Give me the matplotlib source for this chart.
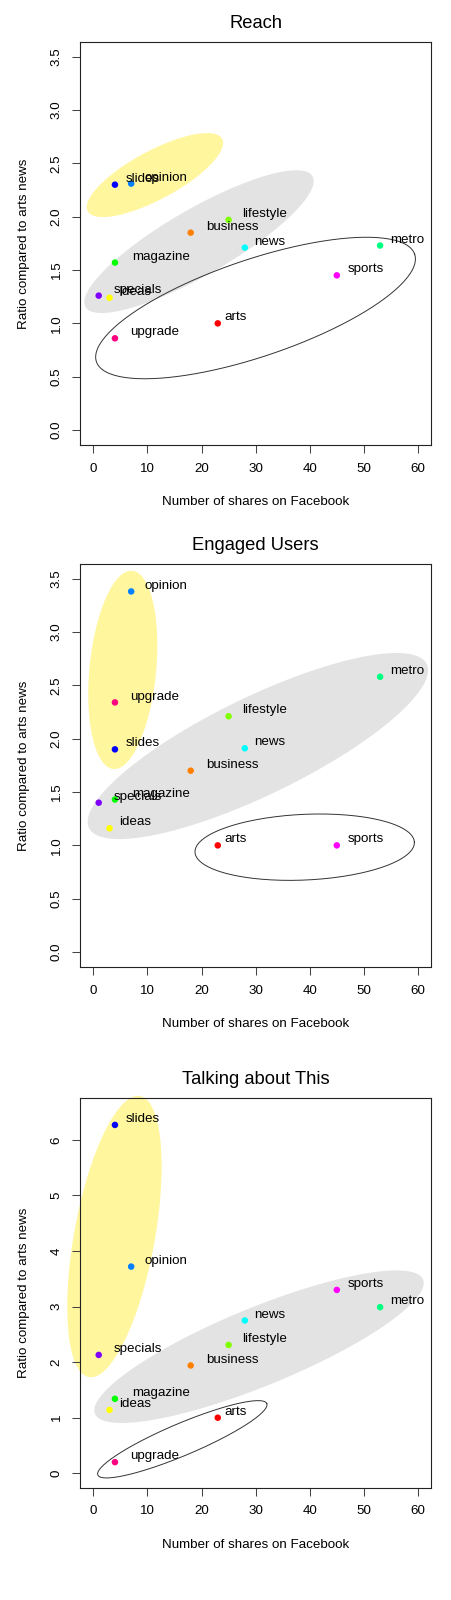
import numpy as np
import matplotlib
matplotlib.use("Agg")
from matplotlib import pyplot as plt

plt.rcParams['font.family'] = ['Liberation Sans', 'DejaVu Sans']

sections = ['arts', 'business', 'ideas', 'lifestyle', 'magazine', 'metro',
            'news', 'opinion', 'slides', 'specials', 'sports', 'upgrade']
shares = [23, 18, 3, 25, 4, 53, 28, 7, 4, 1, 45, 4]
reach = [1.00, 1.85, 1.24, 1.97, 1.57, 1.73, 1.71, 2.31, 2.30, 1.26, 1.45, 0.86]
engaged = [1.00, 1.70, 1.16, 2.21, 1.43, 2.58, 1.91, 3.38, 1.90, 1.40, 1.00, 2.34]
talking = [1.00, 1.94, 1.14, 2.31, 1.34, 2.99, 2.75, 3.72, 6.27, 2.13, 3.30, 0.20]

# rainbow(12), one colour per section (alphabetical)
colors = ['#FF0000', '#FF8000', '#FFFF00', '#80FF00', '#00FF00', '#00FF80',
          '#00FFFF', '#0080FF', '#0000FF', '#8000FF', '#FF00FF', '#FF0080']

titles = ['Reach', 'Engaged Users', 'Talking about This']
ylims = [3.5, 3.5, 6.5]
yticks = [[0, 0.5, 1, 1.5, 2, 2.5, 3, 3.5],
          [0, 0.5, 1, 1.5, 2, 2.5, 3, 3.5],
          [0, 1, 2, 3, 4, 5, 6]]
ylabels = [['0.0', '0.5', '1.0', '1.5', '2.0', '2.5', '3.0', '3.5'],
           ['0.0', '0.5', '1.0', '1.5', '2.0', '2.5', '3.0', '3.5'],
           ['0', '1', '2', '3', '4', '5', '6']]

# hand drawn cluster ellipses: centre, semi axis u, semi axis v (data units)
yellow = [((11.39, 2.39), (12.42, 0.339), (-2.12, 0.200)),
          ((5.45, 2.645), (1.763, 0.929), (-6.13, 0.030)),
          ((3.91, 4.26), (4.726, 2.530), (-7.33, 0.130))]
grey = [((19.53, 1.766), (20.97, 0.613), (-3.06, 0.268)),
        ((30.41, 1.931), (31.20, 0.768), (-3.96, 0.413)),
        ((30.62, 2.278), (30.31, 1.209), (-2.74, 0.651))]
outline = [((29.98, 1.144), (29.40, 0.504), (-2.88, 0.431)),
           ((39.06, 0.983), (20.27, 0.047), (-0.275, 0.3075)),
           ((16.45, 0.6115), (15.61, 0.643), (-1.155, 0.2656))]

W, H = 451, 1600
fig = plt.figure(figsize=(W / 100, H / 100), dpi=100)
renderer = fig.canvas.get_renderer()

# axes box in pixels: left, top, right, bottom
boxes = [(80.3, 41.7, 431, 445), (80.3, 563.7, 431, 967), (80.3, 1097.7, 431, 1487.7)]
fs = 9.6


def ell(e):
    t = np.linspace(0, 2 * np.pi, 200)
    (cx, cy), (ux, uy), (vx, vy) = e
    return cx + ux * np.cos(t) + vx * np.sin(t), cy + uy * np.cos(t) + vy * np.sin(t)


for i, yv in enumerate([reach, engaged, talking]):
    l, t, r, b = boxes[i]
    ax = fig.add_axes([l / W, 1 - b / H, (r - l) / W, (b - t) / H])
    ax.set_xlim(-2.4, 62.4)
    ax.set_ylim(-0.04 * ylims[i], 1.04 * ylims[i])

    ex, ey = ell(yellow[i])
    ax.fill(ex, ey, color='#FFF69E', lw=0, zorder=1, clip_on=False)
    ex, ey = ell(grey[i])
    ax.fill(ex, ey, color='#E3E3E3', lw=0, zorder=1, clip_on=False)
    ex, ey = ell(outline[i])
    ax.plot(ex, ey, color='#333333', lw=0.7, zorder=2, clip_on=False)

    ax.scatter(shares, yv, c=colors, s=22, lw=0, zorder=3)
    for k in range(len(sections)):
        txt = ax.annotate(sections[k], (shares[k], yv[k]), xytext=(0, 0),
                          textcoords='offset pixels', fontsize=fs,
                          ha='left', va='baseline', zorder=4)
        w = txt.get_window_extent(renderer).width
        txt.xyann = (0.3 * w, 2.9)

    ax.set_xticks([0, 10, 20, 30, 40, 50, 60])
    ax.set_yticks(yticks[i])
    ax.set_yticklabels(ylabels[i], rotation=90, va='center')
    ax.tick_params(length=5.8, width=0.75, color='#444444', labelsize=fs, pad=7)
    for s in ax.spines.values():
        s.set_linewidth(0.8)
        s.set_color('#222222')
        s.set_zorder(5)

    ax.annotate(titles[i], (0.5, 1), xycoords='axes fraction', xytext=(0, 18.5),
                textcoords='offset pixels', ha='center', va='center', fontsize=13.2)
    ax.annotate('Number of shares on Facebook', (0.5, 0), xycoords='axes fraction',
                xytext=(0, -57), textcoords='offset pixels', ha='center', va='center',
                fontsize=fs)
    ax.annotate('Ratio compared to arts news', (0, 0.5), xycoords='axes fraction',
                xytext=(-56.3, 0), textcoords='offset pixels', ha='center', va='center',
                rotation=90, fontsize=fs)

fig.savefig('out.png', dpi=100)
